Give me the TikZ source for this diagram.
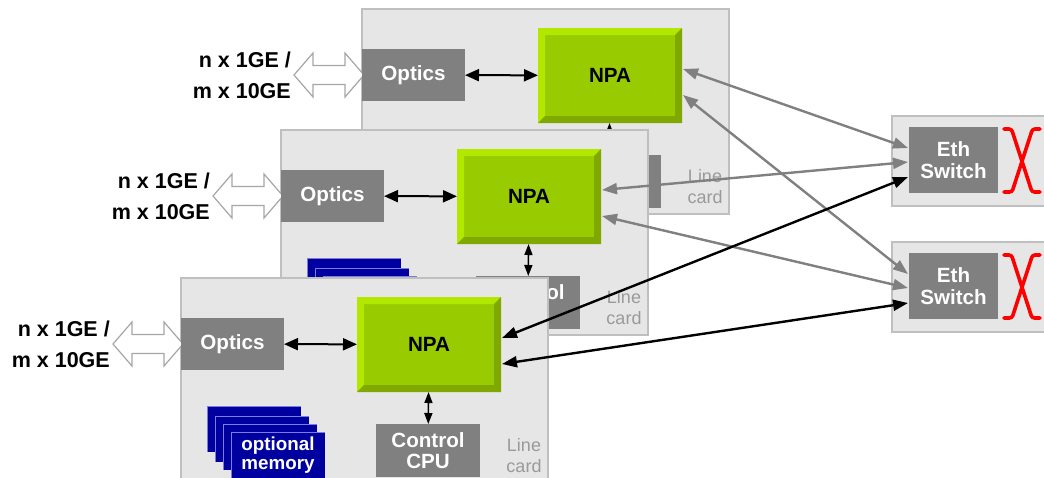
\documentclass[tikz,border=0pt]{standalone}
\usepackage{fontspec}
\setmainfont{Liberation Sans}
\usetikzlibrary{arrows.meta,calc}
\definecolor{cardfill}{HTML}{E6E6E6}
\definecolor{cardline}{HTML}{BFBFBF}
\definecolor{boxgray}{HTML}{808080}
\definecolor{npagreen}{HTML}{99CC00}
\definecolor{npalight}{HTML}{B2E800}
\definecolor{npadark}{HTML}{7FA800}
\definecolor{memblue}{HTML}{0000A0}
\definecolor{memedge}{HTML}{7C7CE0}
\definecolor{lblgray}{HTML}{9A9A9A}
\definecolor{hollowline}{HTML}{A6A6A6}
\definecolor{xred}{HTML}{FF0000}
\tikzset{
  card/.style={draw=cardline, fill=cardfill, line width=1.2pt, minimum width=367pt,
    minimum height=205pt, inner sep=0pt, outer sep=0pt, anchor=north west},
  swouter/.style={draw=cardline, fill=cardfill, line width=1.2pt, minimum width=170pt,
    minimum height=90pt, inner sep=0pt, outer sep=0pt, anchor=north west},
  darkbox/.style={fill=boxgray, text=white, font=\fontsize{20.6}{21.5}\selectfont\bfseries,
    inner sep=0pt, outer sep=0pt, align=center, anchor=north west},
  npabox/.style={fill=npagreen, minimum width=144pt, minimum height=95pt, inner sep=0pt,
    outer sep=0pt, anchor=north west, font=\fontsize{20.6}{22}\selectfont\bfseries,
    path picture={
      \fill[npalight] (path picture bounding box.north west) -- (path picture bounding box.north east)
        -- ($(path picture bounding box.north east)+(-7pt,-7pt)$)
        -- ($(path picture bounding box.north west)+(7pt,-7pt)$)
        -- ($(path picture bounding box.south west)+(7pt,7pt)$)
        -- (path picture bounding box.south west) -- cycle;
      \fill[npadark] (path picture bounding box.north east) -- (path picture bounding box.south east)
        -- (path picture bounding box.south west)
        -- ($(path picture bounding box.south west)+(7pt,7pt)$)
        -- ($(path picture bounding box.south east)+(-7pt,7pt)$)
        -- ($(path picture bounding box.north east)+(-7pt,-7pt)$) -- cycle;
    }},
  memrect/.style={fill=memblue, minimum width=94pt, minimum height=46pt, inner sep=0pt,
    outer sep=0pt, anchor=north west, text=white, align=center,
    font=\fontsize{18.8}{19.5}\selectfont\bfseries,
    path picture={
      \draw[memedge, line width=2pt] (path picture bounding box.south west)
        -- (path picture bounding box.north west) -- (path picture bounding box.north east);
    }},
  gelabel/.style={font=\fontsize{21.5}{31}\selectfont\bfseries, align=right, inner sep=0pt, anchor=east},
  lclabel/.style={font=\fontsize{18}{21}\selectfont, text=lblgray, align=center, inner sep=0pt},
  hollow/.style={draw=hollowline, fill=white, line width=1.2pt, line join=miter},
  lnkopt/.style={line width=2pt, black,
    {Triangle[length=14pt,width=12pt]}-{Triangle[length=14pt,width=12pt]}},
  lnkvert/.style={line width=1.6pt, black,
    {Triangle[length=11pt,width=8pt]}-{Triangle[length=11pt,width=8pt]}},
  lnkgray/.style={line width=2.4pt, boxgray,
    {Triangle[length=15pt,width=11pt]}-{Triangle[length=15pt,width=11pt]}},
  lnkblack/.style={line width=2.4pt, black,
    {Triangle[length=15pt,width=11pt]}-{Triangle[length=15pt,width=11pt]}},
  redx/.style={draw=xred, line width=3.6pt, rounded corners=2.5pt, line cap=round},
  linecard/.pic={
    \node[card] (-card) at (0,0) {};
    \draw[hollow] (-68,66) -- (-49,44) -- (-49,56.5) -- (-17,56.5) -- (-17,44) -- (2,66)
      -- (-17,88) -- (-17,75.5) -- (-49,75.5) -- (-49,88) -- cycle;
    \node[gelabel] (-ge) at (-71,66) {n x 1GE /\\m x 10GE};
    \node[darkbox, minimum width=103pt, minimum height=52pt] (-optics) at (0,40) {Optics};
    \node[npabox] (-npa) at (176,19) {NPA};
    \node[darkbox, minimum width=104pt, minimum height=53pt] (-cpu) at (195,146) {Control\\CPU};
    \node[memrect] (-m1) at (26,128) {};
    \node[memrect] (-m2) at (34,138) {};
    \node[memrect] (-m3) at (42,146) {};
    \node[memrect] (-m4) at (50,154) {optional\\memory};
    \node[lclabel] (-lbl) at (343,178) {Line\\card};
    \draw[lnkopt] (-optics) -- (-npa);
    \draw[lnkvert] (-npa) -- (-cpu);
    \coordinate (-p1) at (321,60);
    \coordinate (-p2) at (321,86);
  },
  ethswitch/.pic={
    \node[swouter] (-box) at (0,0) {};
    \node[darkbox, minimum width=89pt, minimum height=66pt] (-sw) at (17,11) {Eth\\Switch};
    \draw[redx] (112,13) -- (119.5,13) -- (140,76) -- (148,76);
    \draw[redx] (148,13) -- (140.5,13) -- (120,76) -- (112,76);
    \coordinate (-a1) at (16,32);
    \coordinate (-a2) at (16,46);
    \coordinate (-a3) at (16,61);
  }
}
\begin{document}
\begin{tikzpicture}[x=1pt,y=-1pt]
\path[use as bounding box] (0,0) rectangle (1044,477);
\clip (0,0) rectangle (1044,477);
\pic (c1) at (362,9) {linecard};
\pic (c2) at (281,130) {linecard};
\pic (c3) at (181,278) {linecard};
\pic (sw1) at (892,116) {ethswitch};
\pic (sw2) at (892,242) {ethswitch};
\draw[lnkgray] (c1-p1) -- (sw1-a1);
\draw[lnkgray] (c1-p2) -- (sw2-a1);
\draw[lnkgray] (c2-p1) -- (sw1-a2);
\draw[lnkgray] (c2-p2) -- (sw2-a2);
\draw[lnkblack] (c3-p1) -- (sw1-a3);
\draw[lnkblack] (c3-p2) -- (sw2-a3);
\end{tikzpicture}
\end{document}
